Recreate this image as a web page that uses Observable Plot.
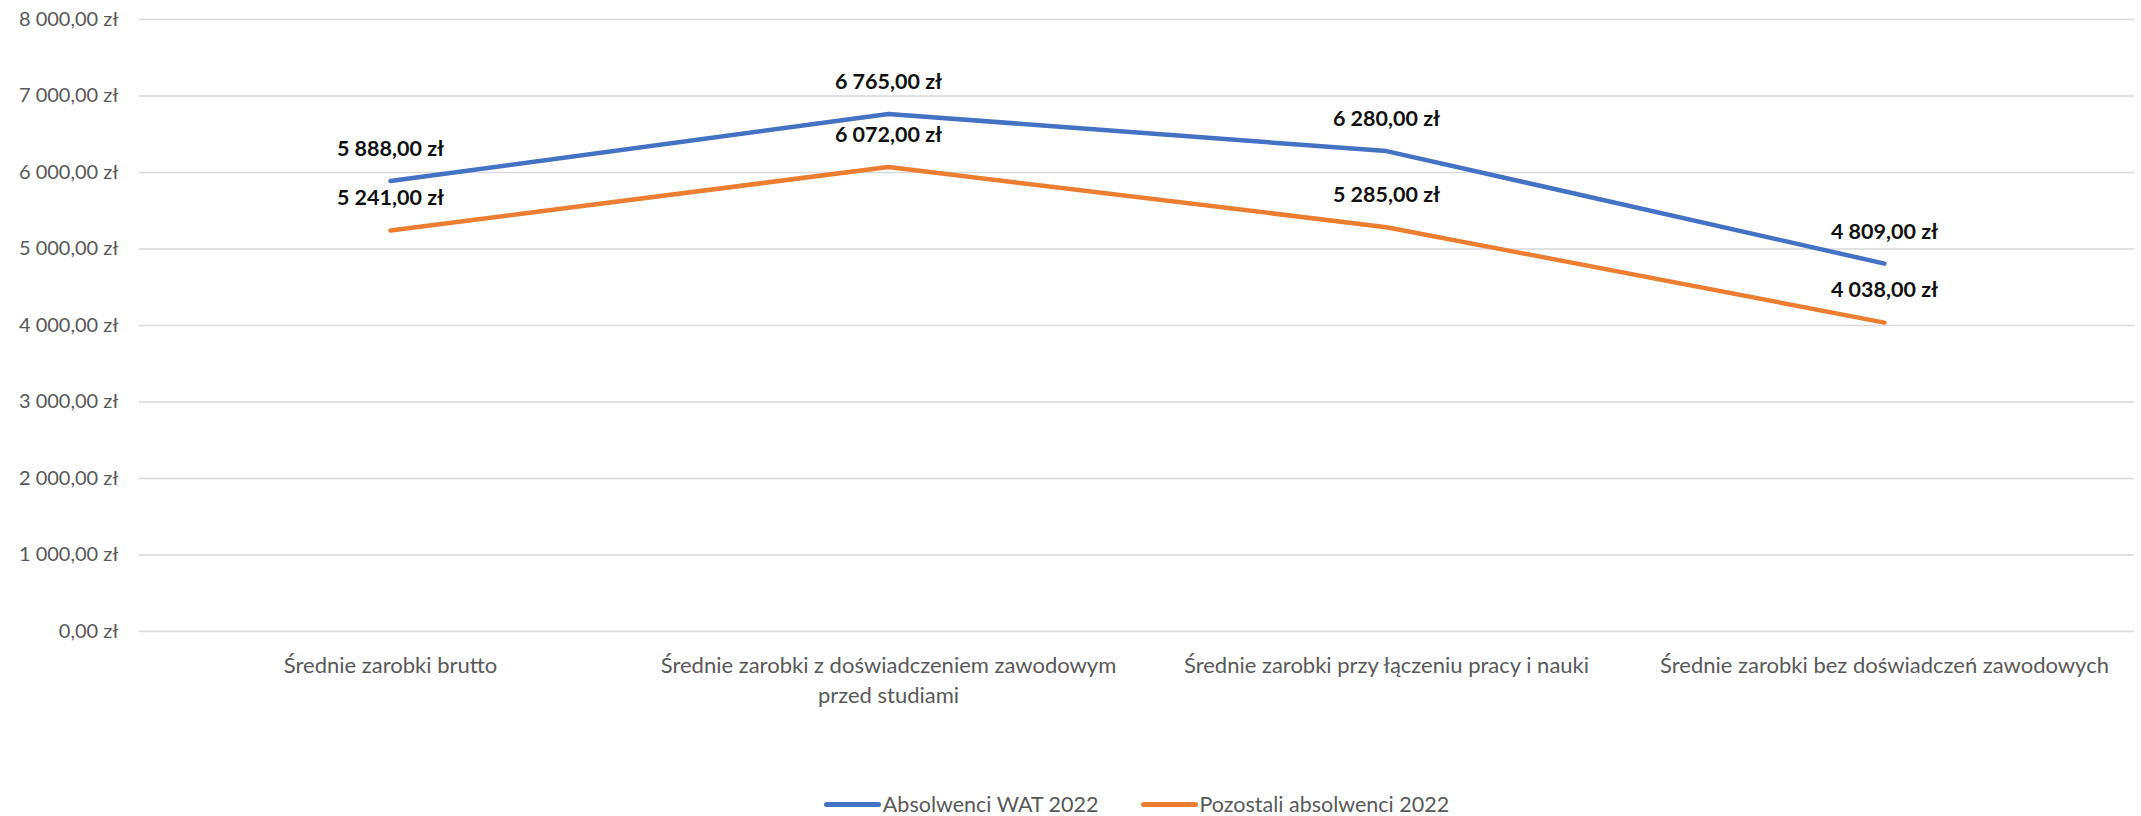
<!DOCTYPE html>
<html><head><meta charset="utf-8">
<script src="https://cdn.jsdelivr.net/npm/d3@7"></script>
<script src="https://cdn.jsdelivr.net/npm/@observablehq/plot@0.6"></script>
<style>
body{margin:0;background:#fff;font-family:Lato,"Noto Sans",sans-serif;}
#legend{display:flex;justify-content:center;align-items:center;gap:42px;font-size:21.5px;color:#595959;height:26px;margin-top:5px;padding-left:132px;}
.item{display:flex;align-items:center;}
.sw{display:inline-block;width:57px;height:5px;border-radius:3px;margin-right:2px;}
</style></head>
<body><div id="chart"></div><div id="legend"></div>
<script>
const categories = [
  "Średnie zarobki brutto",
  "Średnie zarobki z doświadczeniem zawodowym przed studiami",
  "Średnie zarobki przy łączeniu pracy i nauki",
  "Średnie zarobki bez doświadczeń zawodowych"
];
const tickLabels = [
  "Średnie zarobki brutto",
  "Średnie zarobki z doświadczeniem zawodowym\nprzed studiami",
  "Średnie zarobki przy łączeniu pracy i nauki",
  "Średnie zarobki bez doświadczeń zawodowych"
];
const seriesNames = ["Absolwenci WAT 2022", "Pozostali absolwenci 2022"];
const watValues = [5888, 6765, 6280, 4809];
const otherValues = [5241, 6072, 5285, 4038];
const yTicks = [0,1000,2000,3000,4000,5000,6000,7000,8000];
const colors = ["#4472C4", "#ED7D31"];

const loc = d3.formatLocale({decimal:",", thousands:" ", grouping:[3], currency:["", " zł"]});
const fmt = v => loc.format(",.2f")(v) + " zł";

const data = [];
categories.forEach((c,i)=>{
  data.push({cat:c, series:seriesNames[0], value:watValues[i]});
  data.push({cat:c, series:seriesNames[1], value:otherValues[i]});
});

const H = 786;
const chart = Plot.plot({
  width: 2141,
  height: H,
  marginLeft: 139,
  marginRight: 7,
  marginTop: 19,
  marginBottom: H - 631,
  style: {fontFamily: "Lato, 'Noto Sans', sans-serif", background: "#fff"},
  x: {type: "point", domain: categories, padding: 0.5},
  y: {domain: [0, 8000]},
  color: {domain: seriesNames, range: colors},
  marks: [
    Plot.ruleY(yTicks, {stroke: "#d9d9d9", strokeWidth: 1.5}),
    Plot.axisY({ticks: yTicks, tickSize: 0, tickPadding: 21, tickFormat: fmt, fontSize: 20, fill: "#595959", label: null}),
    Plot.axisX({tickSize: 0, tickPadding: 20, fontSize: 22, fill: "#595959", label: null, lineHeight: 1.36,
      tickFormat: d => tickLabels[categories.indexOf(d)]}),
    Plot.line(data, {x: "cat", y: "value", z: "series", stroke: "series", strokeWidth: 4.5, strokeLinecap: "round", strokeLinejoin: "round"}),
    Plot.text(data, {x: "cat", y: "value", text: d => fmt(d.value), dy: -32, fontSize: 21.5, fontWeight: "bold", fill: "#111"})
  ]
});
document.getElementById("chart").appendChild(chart);

const leg = document.getElementById("legend");
seriesNames.forEach((s,i)=>{
  const it = document.createElement("span"); it.className="item";
  const sw = document.createElement("span"); sw.className="sw"; sw.style.background=colors[i];
  it.appendChild(sw); it.appendChild(document.createTextNode(s));
  leg.appendChild(it);
});
</script></body></html>
